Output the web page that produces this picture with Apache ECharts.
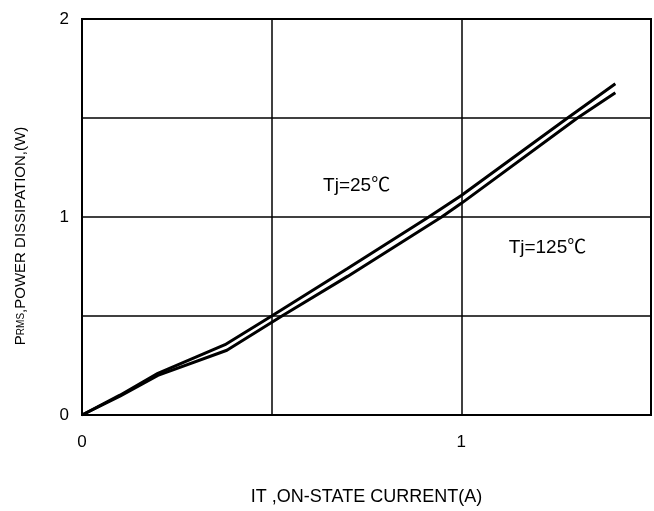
<!DOCTYPE html>
<html>
<head>
<meta charset="utf-8">
<script src="https://cdn.jsdelivr.net/npm/echarts@6/dist/echarts.min.js"></script>
<style>
html, body { margin: 0; padding: 0; background: #fff; }
#main { width: 654px; height: 511px; }
</style>
</head>
<body>
<div id="main"></div>
<script>
// curves: [current A, power W]
var tj25 = [[0, 0], [0.1, 0.1], [0.2, 0.21], [0.377, 0.355], [0.5, 0.5], [0.7, 0.74], [0.914, 1.0], [1.0, 1.109], [1.28, 1.5], [1.406, 1.673]];
var tj125 = [[0, 0], [0.1, 0.095], [0.2, 0.2], [0.382, 0.327], [0.527, 0.5], [0.7, 0.7], [0.948, 1.0], [1.0, 1.069], [1.306, 1.5], [1.406, 1.627]];
var xTickLabels = ['0', '1'];
var yTickLabels = ['0', '1', '2'];
var curveNotes = [
	{ text: 'Tj=25\u2103', coord: [0.724, 1.159] },
	{ text: 'Tj=125\u2103', coord: [1.227, 0.843] }
];

var myChart = echarts.init(document.getElementById('main'));
var font = "'Liberation Sans', Arial, 'Noto Sans CJK SC', sans-serif";

function tickFmt(list) {
	return function(v) {
		var s = String(Math.round(v * 100) / 100);
		return list.indexOf(s) >= 0 ? s : '';
	};
}

var option = {
	animation: false,
	backgroundColor: '#fff',
	grid: {
		left: 82, right: 3, top: 19, bottom: 96,
		outerBoundsMode: 'none',
		show: true, borderColor: '#000', borderWidth: 2
	},
	xAxis: {
		type: 'value', min: 0, max: 1.5, interval: 0.5,
		name: 'IT ,ON-STATE CURRENT(A)',
		nameLocation: 'middle', nameGap: 73,
		nameTextStyle: { color: '#000', fontSize: 18, fontFamily: font },
		axisLine: { show: false },
		axisTick: { show: false },
		axisLabel: { color: '#000', fontSize: 17, fontFamily: font, margin: 19, formatter: tickFmt(xTickLabels) },
		splitLine: { show: true, lineStyle: { color: '#000', width: 1.5 } }
	},
	yAxis: {
		type: 'value', min: 0, max: 2, interval: 0.5,
		axisLine: { show: false },
		axisTick: { show: false },
		axisLabel: { color: '#000', fontSize: 17, fontFamily: font, margin: 13, formatter: tickFmt(yTickLabels) },
		splitLine: { show: true, lineStyle: { color: '#000', width: 1.5 } }
	},
	graphic: [{
		type: 'text',
		x: 21, y: 236, rotation: Math.PI / 2,
		style: {
			text: '{a|P}{b|RMS}{a|,POWER DISSIPATION,(W)}',
			align: 'center', verticalAlign: 'middle',
			rich: {
				a: { fill: '#000', fontSize: 15, fontFamily: font },
				b: { fill: '#000', fontSize: 10, fontFamily: font }
			}
		}
	}],
	series: [
		{
			name: 'Tj=25', type: 'line', data: tj25,
			symbol: 'none', smooth: false,
			lineStyle: { color: '#000', width: 3 },
			markPoint: {
				symbol: 'circle', symbolSize: 0,
				label: { show: true, position: 'inside', color: '#000', fontSize: 19, fontFamily: font, formatter: '{b}' },
				data: curveNotes.map(function(n) { return { name: n.text, coord: n.coord }; })
			}
		},
		{
			name: 'Tj=125', type: 'line', data: tj125,
			symbol: 'none', smooth: false,
			lineStyle: { color: '#000', width: 3 }
		}
	]
};

myChart.setOption(option, true);
</script>
</body>
</html>
